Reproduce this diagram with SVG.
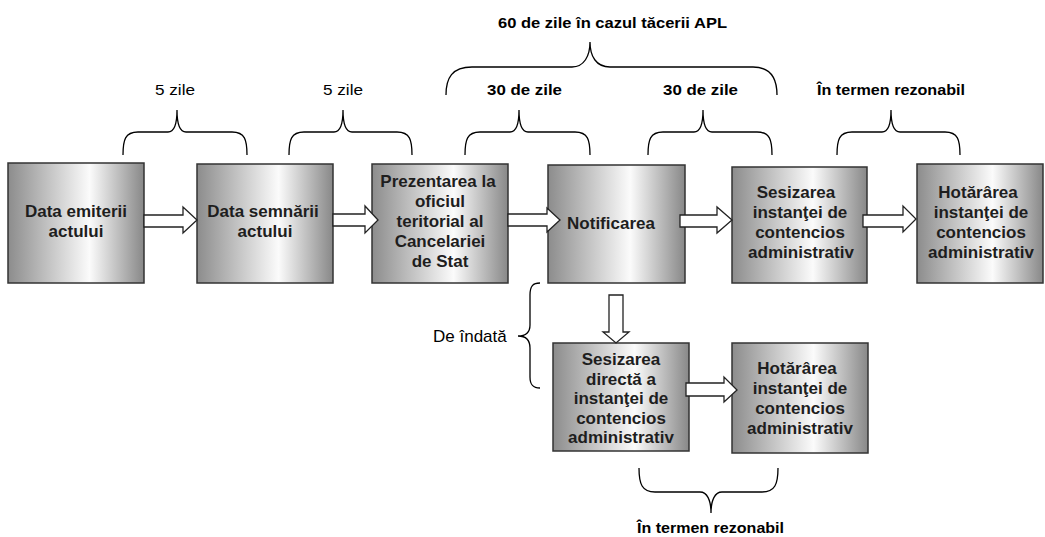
<svg xmlns="http://www.w3.org/2000/svg" width="1045" height="537" viewBox="0 0 1045 537">
<defs>
<linearGradient id="g" x1="0" y1="0" x2="1" y2="0">
<stop offset="0" stop-color="#8c8c8c"/>
<stop offset="0.6" stop-color="#fbfbfb"/>
<stop offset="1" stop-color="#888888"/>
</linearGradient>
<style>
.box{fill:url(#g);stroke:#333;stroke-width:1.5}
.bt{font-family:"Liberation Sans",Arial,sans-serif;font-size:17px;font-weight:bold;fill:#1e1e1e;text-anchor:middle}
.lab{font-family:"Liberation Sans",Arial,sans-serif;font-size:14px;fill:#000}
.labb{font-family:"Liberation Sans",Arial,sans-serif;font-size:14px;font-weight:bold;fill:#000}
.br{fill:none;stroke:#000;stroke-width:1.3}
.arr{fill:#fff;stroke:#222;stroke-width:1.3;stroke-linejoin:miter}
</style>
</defs>
<rect width="1045" height="537" fill="#fff"/>

<g id="n1"><rect class="box" x="8" y="163" width="136" height="120"/>
<text class="bt" x="76" y="217">Data emiterii</text><text class="bt" x="76" y="237">actului</text></g>
<g id="n2"><rect class="box" x="197" y="164" width="136" height="119"/>
<text class="bt" x="263" y="217">Data semnării</text><text class="bt" x="265" y="237">actului</text></g>
<g id="n3"><rect class="box" x="372" y="164" width="136" height="119"/>
<text class="bt" x="438" y="187">Prezentarea la</text><text class="bt" x="440" y="207">oficiul</text><text class="bt" x="440" y="227">teritorial al</text><text class="bt" x="440" y="247">Cancelariei</text><text class="bt" x="440" y="267">de Stat</text></g>
<g id="n4"><rect class="box" x="548" y="165" width="137" height="118"/>
<text class="bt" x="611" y="229">Notificarea</text></g>
<g id="n5"><rect class="box" x="732" y="167" width="135" height="116"/>
<text class="bt" x="796" y="198">Sesizarea</text><text class="bt" x="800" y="218">instanţei de</text><text class="bt" x="800" y="238">contencios</text><text class="bt" x="801" y="258">administrativ</text></g>
<g id="n6"><rect class="box" x="917" y="164" width="126" height="119"/>
<text class="bt" x="978" y="198">Hotărârea</text><text class="bt" x="981" y="218">instanţei de</text><text class="bt" x="981" y="238">contencios</text><text class="bt" x="981" y="258">administrativ</text></g>
<g id="n7"><rect class="box" x="553" y="343" width="136" height="108"/>
<text class="bt" x="621" y="365">Sesizarea</text><text class="bt" x="621" y="385">directă a</text><text class="bt" x="621" y="404">instanţei de</text><text class="bt" x="621" y="424">contencios</text><text class="bt" x="621" y="443">administrativ</text></g>
<g id="n8"><rect class="box" x="732" y="343" width="136" height="110"/>
<text class="bt" x="797" y="374">Hotărârea</text><text class="bt" x="800" y="394">instanţei de</text><text class="bt" x="800" y="414">contencios</text><text class="bt" x="800" y="434">administrativ</text></g>

<g id="connectors">
<path class="arr" d="M144,215 H183 V207 L197,220 L183,233 V227 H144 Z"/>
<path class="arr" d="M333,214 H365 V206 L378,220 L365,233 V226 H333 Z"/>
<path class="arr" d="M508,214 H547 V208 L560,220 L547,232 V226 H508 Z"/>
<path class="arr" d="M680,215 H717 V207 L732,220 L717,233 V227 H680 Z"/>
<path class="arr" d="M863,215 H903 V206 L916,219 L903,232 V227 H863 Z"/>
<path class="arr" d="M609,295 H623 V332 H629 L616,343 L603,332 H609 Z"/>
<path class="arr" d="M686,383 H724 V377 L737,390 L724,402 V396 H686 Z"/>
</g>

<g id="braces">
<path class="br" d="M123,155 C123,140 125,132 138,132 L168,132 C174,132 177,124 177,110 C177,124 180,132 186,132 L232,132 C245,132 247,140 247,155"/>
<path class="br" d="M289,155 C289,140 291,132 304,132 L334,132 C340,132 343,124 343,110 C343,124 346,132 352,132 L397,132 C410,132 412,140 412,155"/>
<path class="br" d="M465,155 C465,140 467,132 480,132 L510,132 C516,132 519,124 519,110 C519,124 522,132 528,132 L575,132 C588,132 590,140 590,155"/>
<path class="br" d="M648,155 C648,140 650,132 663,132 L694,132 C700,132 703,124 703,110 C703,124 706,132 712,132 L757,132 C770,132 772,140 772,155"/>
<path class="br" d="M837,155 C837,140 839,132 852,132 L882,132 C888,132 891,124 891,110 C891,124 894,132 900,132 L945,132 C958,132 960,140 960,155"/>
<path class="br" d="M446,95 C446,78 452,67 472,67 L572,67 C584,67 590,56 590,42 C590,56 596,67 610,67 L753,67 C770,67 777,78 777,95"/>
<path class="br" d="M639,468 C639,484 642,492 655,492 L700,492 C707,492 711,500 711,513 C711,500 715,492 722,492 L762,492 C775,492 778,484 778,468"/>
<path class="br" d="M540,283 C533,283 530,286 530,295 L530,325 C530,332 526,336 518,336 C526,336 530,340 530,348 L530,377 C530,385 533,388 540,388"/>
</g>

<g id="labels">
<text class="lab" x="155" y="95" textLength="40" lengthAdjust="spacingAndGlyphs">5 zile</text>
<text class="lab" x="323" y="95" textLength="40" lengthAdjust="spacingAndGlyphs">5 zile</text>
<text class="labb" x="487" y="95" textLength="75" lengthAdjust="spacingAndGlyphs">30 de zile</text>
<text class="labb" x="663" y="95" textLength="75" lengthAdjust="spacingAndGlyphs">30 de zile</text>
<text class="labb" x="817" y="95" textLength="148" lengthAdjust="spacingAndGlyphs">În termen rezonabil</text>
<text class="labb" x="498" y="28" textLength="229" lengthAdjust="spacingAndGlyphs" style="font-size:15px">60 de zile în cazul tăcerii APL</text>
<text class="labb" x="637" y="533" textLength="147" lengthAdjust="spacingAndGlyphs">În termen rezonabil</text>
<text class="lab" x="433" y="342" style="font-size:17px">De îndată</text>
</g>
</svg>
